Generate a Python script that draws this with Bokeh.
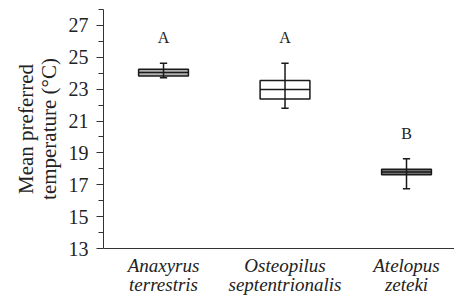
from bokeh.plotting import figure
from bokeh.models import FixedTicker, ColumnDataSource
from bokeh.embed import file_html
from bokeh.resources import INLINE
from bokeh.core.properties import value

genus = ["Anaxyrus", "Osteopilus", "Atelopus"]
epithet = ["terrestris", "septentrionalis", "zeteki"]
xpos = [1, 2, 3]
whisker_low = [23.71, 21.81, 16.75]
q1 = [23.83, 22.39, 17.63]
median = [24.05, 22.98, 17.80]
q3 = [24.25, 23.55, 17.97]
whisker_high = [24.63, 24.63, 18.63]
letters = ["A", "A", "B"]
y_ticks = [13, 15, 17, 19, 21, 23, 25, 27]
y_minor = [14, 16, 18, 20, 22, 24, 26, 28]

box_fill = ["#b0b0b0", "#ffffff", "#707070"]
box_w = 0.41
cap_w = 0.03
letter_gap = 1.6

FONT = "Liberation Serif"
INK = "#222222"

p = figure(width=454, height=298, output_backend="svg", toolbar_location=None,
           x_range=(0.506, 3.395), y_range=(13, 28),
           min_border_left=103, min_border_right=0, min_border_top=9,
           min_border_bottom=0)
p.outline_line_color = None
p.grid.visible = False
p.background_fill_color = "white"
p.border_fill_color = "white"

src = ColumnDataSource(dict(
    x=xpos, lo=whisker_low, q1=q1, med=median, q3=q3, hi=whisker_high,
    left=[x - box_w / 2 for x in xpos], right=[x + box_w / 2 for x in xpos],
    cl=[x - cap_w for x in xpos], cr=[x + cap_w for x in xpos],
    fill=box_fill, letter=letters, ly=[h + letter_gap for h in whisker_high],
))

p.quad(left="left", right="right", bottom="q1", top="q3", source=src,
       fill_color="fill", line_color="#1a1a1a", line_width=1.5)
p.segment(x0="x", y0="lo", x1="x", y1="hi", source=src, line_color="#1a1a1a", line_width=1.5)
p.segment(x0="cl", y0="hi", x1="cr", y1="hi", source=src, line_color="#1a1a1a", line_width=1.5)
p.segment(x0="cl", y0="lo", x1="cr", y1="lo", source=src, line_color="#1a1a1a", line_width=1.5)
p.segment(x0="left", y0="med", x1="right", y1="med", source=src, line_color="#1a1a1a", line_width=1.5)
p.text(x="x", y="ly", text="letter", source=src, text_align="center",
       text_baseline="middle", text_font=value(FONT), text_font_size="16px",
       text_color=INK)

# y axis
ya = p.yaxis[0]
ya.ticker = FixedTicker(ticks=y_ticks, minor_ticks=y_minor)
ya.axis_label = "Mean preferred\ntemperature (\u00b0C)"
ya.axis_label_text_font = FONT
ya.axis_label_text_font_style = "normal"
ya.axis_label_text_font_size = "21px"
ya.axis_label_text_color = INK
ya.axis_label_text_line_height = 0.95
ya.axis_label_standoff = 5
ya.major_label_text_font = FONT
ya.major_label_text_font_size = "20px"
ya.major_label_text_color = INK
ya.major_label_standoff = 8
ya.major_tick_in = 0
ya.major_tick_out = 7
ya.minor_tick_in = 0
ya.minor_tick_out = 5
ya.axis_line_color = "#333333"
ya.major_tick_line_color = "#333333"
ya.minor_tick_line_color = "#333333"

# x axis: two-line italic species names
xa = p.xaxis[0]
xa.ticker = FixedTicker(ticks=xpos, minor_ticks=[])
xa.major_label_overrides = {x: f"{g}\n{e}" for x, g, e in zip(xpos, genus, epithet)}
xa.major_label_text_font = FONT
xa.major_label_text_font_style = "italic"
xa.major_label_text_font_size = "19px"
xa.major_label_text_color = INK
xa.major_label_text_line_height = 0.95
xa.major_label_standoff = 0
xa.major_tick_line_color = None
xa.minor_tick_line_color = None
xa.axis_line_color = "#333333"

open("out.html", "w").write(file_html(p, INLINE))
